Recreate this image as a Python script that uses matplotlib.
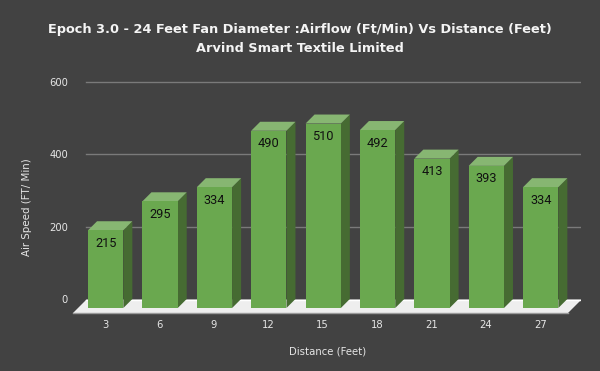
import matplotlib
matplotlib.use("Agg")
import matplotlib.pyplot as plt
from matplotlib.patches import Polygon, Rectangle

distance = [3, 6, 9, 12, 15, 18, 21, 24, 27]
airflow = [215, 295, 334, 490, 510, 492, 413, 393, 334]
y_ticks = [0, 200, 400, 600]

BG = "#424242"
W, H = 600, 371
# axes box in pixels
L, R, B, T = 73, 581, 313, 60
PX_X = 54.375   # px per category
PX_Y = 0.3617   # px per value
X0 = 105.7      # first bar centre, px
Y0 = 308        # value 0 on the bar front plane, px

fig = plt.figure(figsize=(W / 100, H / 100), dpi=100, facecolor=BG)
ax = fig.add_axes([L / W, 1 - B / H, (R - L) / W, (B - T) / H])
ax.set_xlim((L - X0) / PX_X, (R - X0) / PX_X)
ax.set_ylim((Y0 - B) / PX_Y, (Y0 - T) / PX_Y)
ax.axis("off")

bar_w = 35.3 / PX_X
dx, dy = 9 / PX_X, 9 / PX_Y       # bar depth
back_y = 9 / PX_Y                 # back wall offset


def xd(px):
    return (px - X0) / PX_X


def yd(px):
    return (Y0 - px) / PX_Y


# gridlines on the back wall
for v in y_ticks[1:]:
    ax.plot([xd(86), xd(581)], [v + back_y] * 2, color="#7a7a7a", lw=1, zorder=1)

# floor
ax.add_patch(Polygon([(xd(73), yd(313)), (xd(568), yd(313)), (xd(581.5), yd(299.5)), (xd(86.5), yd(299.5))],
                     facecolor="#eeeeee", edgecolor="none", zorder=2))
ax.plot([xd(86), xd(581)], [yd(299.5)] * 2, color="#ffffff", lw=1, zorder=2)
ax.plot([xd(73), xd(568)], [yd(313)] * 2, color="#9a9a9a", lw=1, clip_on=False, zorder=2)

for i, v in enumerate(airflow):
    x = i - bar_w / 2
    ax.add_patch(Polygon([(x + bar_w, 0), (x + bar_w + dx, dy), (x + bar_w + dx, v + dy), (x + bar_w, v)],
                         facecolor="#466b32", edgecolor="none", zorder=3))
    ax.add_patch(Polygon([(x, v), (x + bar_w, v), (x + bar_w + dx, v + dy), (x + dx, v + dy)],
                         facecolor="#87b672", edgecolor="none", zorder=3))
    ax.add_patch(Rectangle((x, 0), bar_w, v, facecolor="#6aa84f", edgecolor="none", zorder=4))
    ax.annotate(str(v), (i, v), xytext=(0, -13), textcoords="offset pixels", ha="center", va="center",
                fontsize=9.2, family="Roboto", color="#111111", zorder=5)
    ax.annotate(str(distance[i]), (i, 0), xytext=(-0.5, -17), textcoords="offset pixels", ha="center", va="center",
                fontsize=7.2, color="#e6e6e6", annotation_clip=False)

for v in y_ticks:
    ax.annotate(str(v), (xd(68), v + back_y), ha="right", va="center_baseline", fontsize=7.2, color="#e6e6e6",
                annotation_clip=False)

fig.text(327.5 / W, 1 - 351 / H, "Distance (Feet)", ha="center", va="center", fontsize=7.3, color="#e6e6e6")
fig.text(27 / W, 1 - 207 / H, "Air Speed (FT/ Min)", ha="center", va="center", rotation=90, fontsize=7.4,
         color="#e6e6e6")
fig.text(300 / W, 1 - 29 / H, "Epoch 3.0 - 24 Feet Fan Diameter :Airflow (Ft/Min) Vs Distance (Feet)",
         ha="center", va="center", fontsize=9.3, fontweight="bold", color="#f4f4f4")
fig.text(300 / W, 1 - 49 / H, "Arvind Smart Textile Limited", ha="center", va="center", fontsize=9.3,
         fontweight="bold", color="#f4f4f4")

fig.savefig("out.png", dpi=100, facecolor=BG)
